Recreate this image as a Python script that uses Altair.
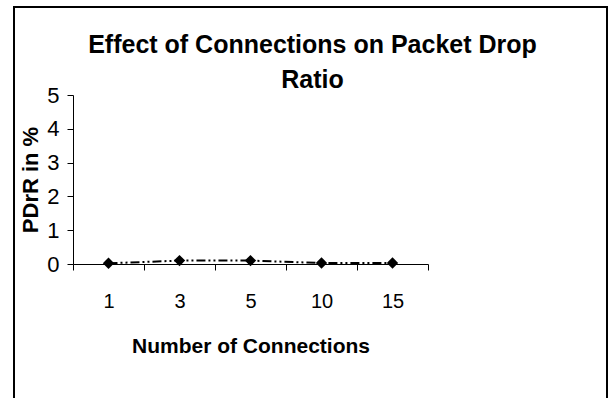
import altair as alt
import pandas as pd

connections = ["1", "3", "5", "10", "15"]
pdr_values = [0.02, 0.1, 0.1, 0.03, 0.03]
y_ticks = [0, 1, 2, 3, 4, 5]

df = pd.DataFrame({"conn": connections, "pdr": pdr_values})

FONT = "Liberation Sans"

x_enc = alt.X(
    "conn:O",
    sort=connections,
    scale=alt.Scale(paddingInner=0, paddingOuter=0),
    axis=alt.Axis(
        title="Number of Connections",
        labelAngle=0,
        tickBand="extent",
        tickSize=6,
        labelFontSize=20,
        labelPadding=21,
        titleFontSize=21,
        titleFontWeight="bold",
        titlePadding=24,
        domainColor="black",
        tickColor="black",
        labelColor="black",
        titleColor="black",
        grid=False,
    ),
)
y_enc = alt.Y(
    "pdr:Q",
    scale=alt.Scale(domain=[0, 5], nice=False),
    axis=alt.Axis(
        title="PDrR in %",
        values=y_ticks,
        tickSize=6,
        labelFontSize=22,
        labelPadding=8,
        titleFontSize=22,
        titleFontWeight="bold",
        titlePadding=4,
        domainColor="black",
        tickColor="black",
        labelColor="black",
        titleColor="black",
        grid=False,
    ),
)

line = alt.Chart(df).mark_line(
    color="black", strokeWidth=2, strokeDash=[9, 3, 2, 3, 2, 3]
).encode(x=x_enc, y=y_enc)

points = alt.Chart(df).mark_point(
    shape="diamond", filled=True, color="black", size=130, opacity=1
).encode(x=x_enc, y=y_enc)

frame = alt.Chart(alt.Data(values=[{}])).mark_rect(
    filled=False, stroke="black", strokeWidth=2
).encode(
    x=alt.value(-59), x2=alt.value(534), y=alt.value(-88), y2=alt.value(330)
)

chart = (
    alt.layer(frame, line, points)
    .properties(
        width=355,
        height=169,
        autosize=alt.AutoSizeParams(type="none"),
        padding={"left": 73, "top": 95, "right": 180, "bottom": 134},
        title=alt.TitleParams(
            text=["Effect of Connections on Packet Drop", "Ratio"],
            fontSize=25,
            fontWeight="bold",
            font=FONT,
            color="black",
            anchor="middle",
            frame="group",
            lineHeight=35,
            dx=62,
            dy=92,
            offset=5,
        ),
        background="white",
    )
    .configure_view(stroke=None)
    .configure_axis(labelFont=FONT, titleFont=FONT)
)

chart.save("out.html", embed_options={"renderer": "svg", "actions": False})
